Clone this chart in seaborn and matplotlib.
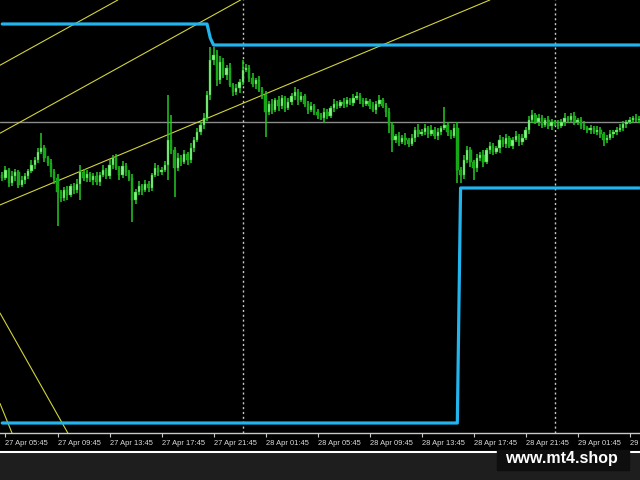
import numpy as np
import pandas as pd
import matplotlib
matplotlib.use("Agg")
import matplotlib.pyplot as plt
import seaborn as sns
from matplotlib.patches import Rectangle
from matplotlib.lines import Line2D

# ===============================
# DATA  (M15 bars, price in points)
# ===============================
start = "27 Apr 05:30"
first_open = 258

closes = [
    255, 263, 250, 257, 261, 248, 253, 257, 262, 268, 273, 281, 285, 275, 270, 261, 255,
    241, 235, 243, 238, 247, 243, 249, 261, 255, 259, 253, 257, 251, 258, 263, 257,
    268, 275, 265, 258, 267, 261, 255, 233, 241, 247, 243, 249, 245, 258, 265, 261,
    263, 268, 293, 283, 265, 275, 271, 279, 273, 285, 293, 301, 308, 315, 338, 373,
    378, 353, 371, 358, 365, 348, 341, 345, 351, 363, 365, 355, 349, 353, 343, 338,
    321, 329, 323, 333, 327, 335, 325, 331, 337, 341, 333, 337, 329, 323, 327, 321,
    318, 315, 321, 317, 325, 329, 327, 331, 329, 333, 330, 335, 337, 333, 329, 332,
    327, 323, 329, 333, 327, 321, 308, 293, 297, 291, 295, 293, 289, 295, 303, 299,
    301, 305, 299, 303, 297, 301, 305, 308, 301, 297, 305, 263, 258, 273, 283, 271,
    265, 275, 278, 271, 283, 287, 281, 285, 293, 289, 295, 287, 293, 297, 291, 295,
    303, 313, 318, 311, 315, 308, 313, 307, 311, 309, 307, 311, 315, 313, 317, 311,
    313, 308, 305, 303, 305, 301, 303, 299, 293, 295, 299, 301, 303, 305, 309, 311,
    313, 315, 313, 314,
]

up_wick = [
    3, 4, 2, 5, 3, 2, 4, 3, 2, 5, 3, 4, 15, 3, 2, 4, 3,
    4, 2, 3, 4, 2, 3, 5, 7, 3, 4, 2, 3, 4, 3, 5, 2,
    6, 3, 4, 2, 5, 3, 2, 4, 3, 5, 2, 4, 3, 2, 5, 3,
    3, 4, 45, 25, 3, 5, 3, 4, 2, 5, 3, 4, 3, 5, 4, 13,
    8, 5, 6, 4, 3, 5, 2, 4, 3, 10, 4, 3, 5, 2, 4, 3,
    4, 3, 5, 2, 4, 3, 2, 4, 3, 5, 3, 4, 2, 3, 4, 2,
    3, 2, 4, 3, 2, 5, 3, 2, 4, 3, 2, 4, 4, 3, 2, 3,
    2, 4, 3, 5, 2, 3, 4, 3, 2, 4, 3, 5, 2, 4, 3, 6,
    3, 4, 2, 5, 3, 4, 2, 18, 3, 2, 4, 6, 3, 5, 4, 3,
    2, 4, 3, 5, 2, 4, 3, 2, 5, 3, 4, 2, 3, 5, 2, 4,
    3, 4, 5, 2, 4, 3, 2, 4, 3, 2, 4, 3, 5, 2, 3, 4,
    2, 3, 4, 2, 3, 2, 4, 3, 2, 3, 4, 2, 3, 4, 3, 2,
    3, 2, 4, 3,
]

dn_wick = [
    3, 2, 4, 3, 5, 3, 2, 4, 3, 2, 4, 3, 2, 4, 3, 5, 6,
    34, 4, 3, 5, 2, 4, 3, 16, 3, 4, 2, 5, 3, 4, 2, 3,
    3, 4, 2, 5, 3, 4, 3, 22, 4, 3, 5, 2, 4, 3, 2, 4,
    3, 2, 15, 4, 29, 3, 4, 2, 5, 3, 4, 2, 3, 4, 3, 5,
    5, 6, 4, 3, 5, 2, 4, 3, 5, 3, 2, 4, 3, 5, 2, 4,
    25, 3, 4, 2, 5, 3, 4, 2, 3, 4, 5, 2, 3, 4, 2, 3,
    4, 2, 5, 3, 2, 4, 3, 2, 4, 3, 2, 3, 2, 4, 3, 2,
    3, 2, 4, 3, 2, 5, 8, 12, 3, 4, 2, 5, 3, 2, 4, 3,
    2, 3, 4, 2, 3, 4, 3, 2, 4, 3, 2, 13, 8, 4, 3, 5,
    12, 4, 3, 5, 2, 4, 3, 2, 5, 3, 4, 2, 3, 2, 4, 3,
    2, 4, 3, 2, 4, 3, 2, 3, 4, 2, 3, 2, 4, 3, 2, 3,
    3, 4, 2, 3, 4, 2, 3, 4, 6, 3, 2, 4, 3, 2, 3, 4,
    2, 3, 2, 3,
]

# step channel (level, first bar of the level)
upper_levels = [409, 395, 388]
upper_from = [0, 64, 65]
lower_levels = [10, 245]
lower_from = [0, 141]

gray_level = 311

# trend lines, two (bar, price) anchors each
trend_lines = [
    ((0, 369), (60, 477)),
    ((0, 301), (60, 409)),
    ((0, 229), (100, 365)),
    ((0, 116), (20, 1)),
    ((0, 24), (2, 8)),
]

tick_labels = [
    "27 Apr 05:45", "27 Apr 09:45", "27 Apr 13:45", "27 Apr 17:45",
    "27 Apr 21:45", "28 Apr 01:45", "28 Apr 05:45", "28 Apr 09:45",
    "28 Apr 13:45", "28 Apr 17:45", "28 Apr 21:45", "29 Apr 01:45",
    "29 Apr 05:45",
]
day_breaks = ["28 Apr 00:00", "29 Apr 00:00"]

# ===============================
# BUILD TABLE
# ===============================
fmt = "%d %b %H:%M"
t0 = pd.to_datetime(start, format=fmt)


def bar_of(label):
    return (pd.to_datetime(label, format=fmt) - t0) / pd.Timedelta(minutes=15)


n = len(closes)
df = pd.DataFrame({"close": closes, "up": up_wick, "dn": dn_wick})
df["bar"] = np.arange(n)
df["open"] = df["close"].shift(1).fillna(first_open)
df["top"] = df[["open", "close"]].max(axis=1)
df["bot"] = df[["open", "close"]].min(axis=1)
df["high"] = df["top"] + df["up"]
df["low"] = df["bot"] - df["dn"]
df["bull"] = df["close"] >= df["open"]
df["upper"] = np.repeat(upper_levels, np.diff(upper_from + [n]))
df["lower"] = np.repeat(lower_levels, np.diff(lower_from + [n]))

# ===============================
# PLOT
# ===============================
sns.set_theme(style="dark", rc={"axes.facecolor": "black", "figure.facecolor": "black"})
plt.rcParams["font.family"] = ["Liberation Sans", "DejaVu Sans"]

fig = plt.figure(figsize=(6.4, 4.8), dpi=100, facecolor="black")
ax = fig.add_axes([0, 47 / 480, 1, 433 / 480])
ax.set_facecolor("black")

ax.axhline(gray_level, color="#8c8c8c", lw=1, zorder=1)
for b in day_breaks:
    ax.axvline(bar_of(b), color="#c8c8c8", lw=1, ls=(0, (1.5, 2)), zorder=1)
for p1, p2 in trend_lines:
    ax.axline(p1, p2, color="#d2d23c", lw=0.8, zorder=2)

ax.vlines(df["bar"], df["low"], df["high"], color="#22c822", lw=1.1, zorder=3)
body_colors = np.where(df["bull"], "#8af28a", "#14a814")
ax.bar(df["bar"], (df["top"] - df["bot"]).clip(lower=1.5), bottom=df["bot"],
       width=0.74, color=body_colors, edgecolor="#1fb81f", linewidth=0.3, zorder=4)

sns.lineplot(data=df, x="bar", y="upper", color="#22b4ec", lw=2.3, ax=ax, zorder=5)
sns.lineplot(data=df, x="bar", y="lower", color="#22b4ec", lw=2.3, ax=ax, zorder=5)

ax.set_xlim(-0.69, 196.2)
ax.set_ylim(0, 433)
ax.set_xlabel("")
ax.set_ylabel("")
ax.set_yticks([])
ax.set_xticks([bar_of(t) for t in tick_labels])
ax.set_xticklabels(tick_labels, ha="left", fontsize=5.4, color="#dcdcdc")
ax.tick_params(axis="x", direction="out", length=3, width=0.8, color="#c8c8c8", pad=2,
               bottom=True)
for side in ["top", "left", "right"]:
    ax.spines[side].set_visible(False)
ax.spines["bottom"].set_visible(True)
ax.spines["bottom"].set_color("#c8c8c8")
ax.spines["bottom"].set_linewidth(1)
ax.grid(False)

# footer strip and watermark
fig.patches.append(Rectangle((0, 0), 1, 27 / 480, transform=fig.transFigure,
                             color="#1e1e1e", zorder=0))
fig.lines.append(Line2D([0, 1], [28 / 480, 28 / 480], transform=fig.transFigure,
                        color="white", lw=1.5, zorder=1))
fig.patches.append(Rectangle((497 / 640, 10 / 480), 132 / 640, 20 / 480,
                             transform=fig.transFigure, color="#0e0e0e", zorder=2))
fig.text(561 / 640, 1 - 459 / 480, "www.mt4.shop", ha="center", va="center",
         fontsize=11.5, fontweight="bold", color="white", zorder=3)

fig.savefig("out.png", dpi=100, facecolor=fig.get_facecolor())
